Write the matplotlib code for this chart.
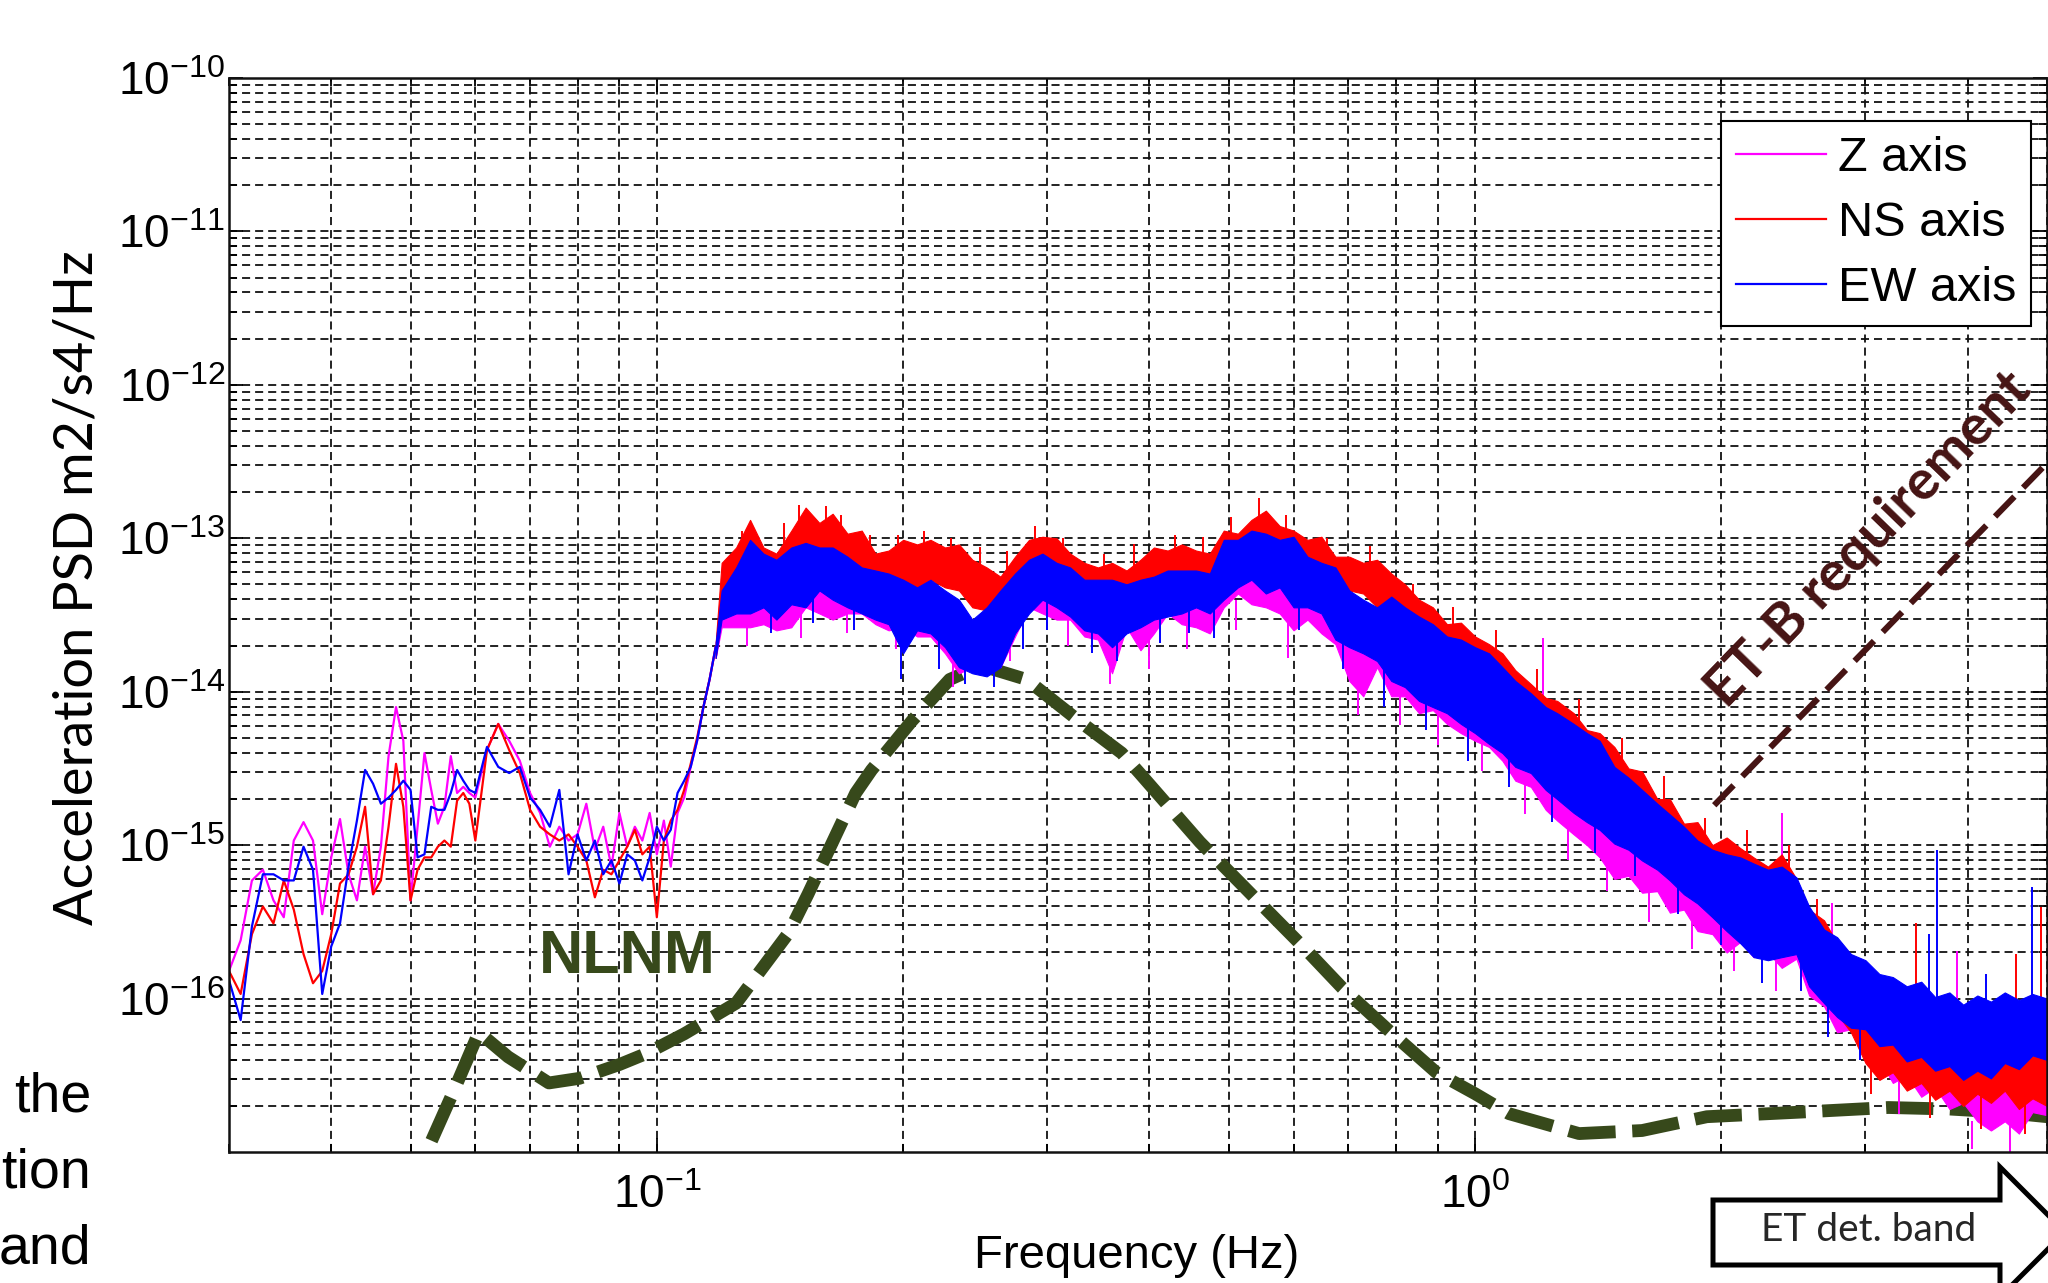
import numpy as np
import matplotlib
matplotlib.use("Agg")
import matplotlib.pyplot as plt
from matplotlib.ticker import FixedLocator, FixedFormatter, LogLocator, NullFormatter
from matplotlib.patches import Polygon

# values, PSD given as log10(m2/s4/Hz)
low_freq = [0.030, 0.031, 0.032, 0.033, 0.034, 0.035, 0.036, 0.037, 0.038, 0.039,
            0.040, 0.041, 0.042, 0.043, 0.044, 0.045, 0.046, 0.047, 0.048, 0.049,
            0.050, 0.051, 0.052, 0.053, 0.054, 0.055, 0.056, 0.057, 0.058, 0.059,
            0.060, 0.062, 0.064, 0.066, 0.068, 0.070, 0.072, 0.074, 0.076, 0.078,
            0.080, 0.082, 0.084, 0.086, 0.088, 0.090, 0.092, 0.094, 0.096, 0.098,
            0.100, 0.102, 0.104, 0.106, 0.108, 0.110, 0.112, 0.114, 0.116, 0.118]

z_low = [-15.82, -15.62, -15.23, -15.16, -15.36, -15.47, -14.97, -14.85, -14.97, -15.45,
         -15.08, -14.83, -15.19, -15.36, -15.01, -15.32, -15.01, -14.42, -14.10, -14.32,
         -15.36, -14.88, -14.40, -14.64, -14.86, -14.75, -14.42, -14.66, -14.62, -14.66,
         -14.69, -14.38, -14.21, -14.32, -14.45, -14.66, -14.79, -15.01, -14.88, -14.97,
         -14.93, -14.73, -15.03, -14.88, -15.14, -14.79, -15.01, -14.88, -14.97, -14.79,
         -15.06, -14.84, -15.14, -14.79, -14.69, -14.49, -14.32, -14.10, -13.92, -13.71]

ns_low = [-15.82, -15.97, -15.58, -15.40, -15.51, -15.23, -15.42, -15.71, -15.90, -15.82,
          -15.58, -15.25, -15.19, -15.01, -14.75, -15.32, -15.23, -14.88, -14.47, -14.75,
          -15.36, -15.16, -15.08, -15.08, -15.01, -14.97, -15.01, -14.71, -14.66, -14.73,
          -14.97, -14.38, -14.21, -14.38, -14.53, -14.77, -14.88, -14.93, -14.97, -14.93,
          -15.01, -15.10, -15.34, -15.16, -15.19, -15.10, -15.01, -14.90, -15.06, -15.01,
          -15.47, -14.97, -14.84, -14.77, -14.64, -14.47, -14.30, -14.10, -13.92, -13.71]

ew_low = [-15.88, -16.14, -15.53, -15.19, -15.19, -15.23, -15.23, -15.01, -15.16, -15.97,
          -15.66, -15.51, -15.14, -14.84, -14.51, -14.60, -14.73, -14.69, -14.64, -14.58,
          -14.64, -15.08, -15.06, -14.75, -14.77, -14.77, -14.66, -14.51, -14.58, -14.64,
          -14.66, -14.36, -14.49, -14.53, -14.49, -14.69, -14.77, -14.88, -14.64, -15.19,
          -14.93, -15.10, -14.97, -15.19, -15.10, -15.25, -15.06, -15.10, -15.23, -15.08,
          -14.88, -14.97, -14.90, -14.66, -14.58, -14.49, -14.32, -14.10, -13.92, -13.71]

# above 0.118 Hz the spectra are a dense noise band: upper / lower edges
band_freq = [0.118, 0.120, 0.125, 0.130, 0.135, 0.140, 0.146, 0.152, 0.158, 0.164,
             0.171, 0.178, 0.185, 0.192, 0.200, 0.208, 0.216, 0.225, 0.234, 0.243,
             0.253, 0.263, 0.274, 0.285, 0.296, 0.308, 0.320, 0.333, 0.346, 0.360,
             0.375, 0.390, 0.405, 0.421, 0.438, 0.456, 0.474, 0.493, 0.513, 0.533,
             0.555, 0.577, 0.600, 0.624, 0.649, 0.675, 0.702, 0.730, 0.759, 0.790,
             0.821, 0.854, 0.888, 0.924, 0.961, 1.00, 1.04, 1.08, 1.12, 1.17,
             1.22, 1.26, 1.32, 1.37, 1.42, 1.48, 1.54, 1.60, 1.67, 1.73,
             1.80, 1.87, 1.95, 2.03, 2.11, 2.19, 2.28, 2.37, 2.47, 2.56,
             2.67, 2.77, 2.88, 3.00, 3.12, 3.24, 3.37, 3.51, 3.65, 3.80,
             3.95, 4.11, 4.27, 4.44, 4.62, 4.80, 5.00]

z_hi = [-13.68, -13.45, -13.27, -13.10, -13.23, -13.27, -13.19, -13.16, -13.12, -13.19,
        -13.23, -13.27, -13.32, -13.34, -13.34, -13.36, -13.45, -13.49, -13.53, -13.58,
        -13.56, -13.53, -13.34, -13.27, -13.32, -13.34, -13.40, -13.45, -13.49, -13.34,
        -13.38, -13.49, -13.38, -13.34, -13.34, -13.34, -13.34, -13.10, -13.14, -13.01,
        -13.06, -13.10, -13.19, -13.23, -13.27, -13.34, -13.53, -13.60, -13.60, -13.56,
        -13.75, -13.77, -13.82, -13.84, -13.93, -13.97, -14.06, -14.10, -14.14, -14.19,
        -14.32, -14.36, -14.47, -14.53, -14.58, -14.70, -14.76, -14.84, -14.92, -15.00,
        -15.08, -15.15, -15.22, -15.28, -15.30, -15.34, -15.38, -15.38, -15.42, -15.60,
        -15.72, -15.82, -15.90, -15.98, -16.05, -16.10, -16.14, -16.16, -16.20, -16.25,
        -16.28, -16.28, -16.25, -16.22, -16.20, -16.20, -16.18]
z_lo = [-13.78, -13.58, -13.58, -13.58, -13.56, -13.60, -13.58, -13.45, -13.49, -13.53,
        -13.49, -13.49, -13.56, -13.60, -13.58, -13.64, -13.64, -13.75, -13.88, -13.84,
        -13.75, -13.84, -13.64, -13.45, -13.49, -13.53, -13.53, -13.64, -13.66, -13.88,
        -13.58, -13.73, -13.62, -13.49, -13.56, -13.58, -13.62, -13.45, -13.36, -13.43,
        -13.45, -13.49, -13.60, -13.53, -13.62, -13.69, -13.93, -14.03, -13.84, -14.03,
        -14.03, -14.14, -14.12, -14.21, -14.27, -14.32, -14.36, -14.45, -14.58, -14.62,
        -14.77, -14.84, -14.93, -15.00, -15.08, -15.22, -15.20, -15.31, -15.30, -15.44,
        -15.42, -15.56, -15.58, -15.70, -15.63, -15.73, -15.70, -15.80, -15.74, -15.98,
        -16.05, -16.22, -16.20, -16.38, -16.40, -16.55, -16.50, -16.64, -16.58, -16.72,
        -16.68, -16.80, -16.86, -16.80, -16.88, -16.74, -16.76]

ns_hi = [-13.68, -13.16, -13.06, -12.88, -13.06, -13.10, -12.95, -12.80, -12.90, -12.84,
         -12.97, -12.95, -13.10, -13.08, -13.01, -13.04, -13.01, -13.06, -13.04, -13.14,
         -13.19, -13.25, -13.12, -13.01, -12.99, -13.00, -13.10, -13.16, -13.19, -13.16,
         -13.21, -13.14, -13.06, -13.08, -13.04, -13.08, -13.10, -12.95, -12.97, -12.88,
         -12.82, -12.92, -12.95, -13.01, -12.99, -13.12, -13.12, -13.16, -13.14, -13.23,
         -13.30, -13.40, -13.45, -13.56, -13.55, -13.64, -13.69, -13.75, -13.86, -13.95,
         -14.04, -14.06, -14.14, -14.25, -14.27, -14.36, -14.50, -14.52, -14.70, -14.70,
         -14.86, -14.85, -15.00, -14.95, -15.02, -15.08, -15.14, -15.06, -15.22, -15.42,
         -15.49, -15.64, -15.72, -15.85, -15.90, -15.95, -15.98, -16.00, -16.05, -16.08,
         -16.10, -16.08, -16.07, -16.08, -16.07, -16.08, -16.07]
ns_lo = [-13.78, -13.49, -13.40, -13.34, -13.32, -13.34, -13.27, -13.27, -13.21, -13.21,
         -13.25, -13.25, -13.32, -13.34, -13.34, -13.32, -13.27, -13.32, -13.34, -13.45,
         -13.47, -13.53, -13.43, -13.34, -13.23, -13.25, -13.32, -13.34, -13.38, -13.36,
         -13.36, -13.38, -13.30, -13.25, -13.25, -13.32, -13.34, -13.25, -13.14, -13.14,
         -13.19, -13.19, -13.23, -13.23, -13.27, -13.34, -13.34, -13.36, -13.45, -13.49,
         -13.53, -13.64, -13.71, -13.80, -13.84, -13.88, -13.93, -14.01, -14.10, -14.14,
         -14.23, -14.27, -14.32, -14.40, -14.43, -14.85, -14.90, -14.98, -15.05, -15.10,
         -15.20, -15.26, -15.35, -15.45, -15.55, -15.62, -15.65, -15.64, -15.62, -15.85,
         -15.98, -16.10, -16.22, -16.42, -16.53, -16.48, -16.60, -16.55, -16.66, -16.60,
         -16.70, -16.62, -16.68, -16.60, -16.72, -16.65, -16.70]

ew_hi = [-13.68, -13.34, -13.19, -13.01, -13.10, -13.14, -13.06, -13.03, -13.06, -13.06,
         -13.12, -13.19, -13.21, -13.23, -13.27, -13.32, -13.27, -13.34, -13.40, -13.53,
         -13.45, -13.34, -13.23, -13.14, -13.10, -13.16, -13.19, -13.27, -13.27, -13.27,
         -13.30, -13.27, -13.25, -13.21, -13.21, -13.21, -13.23, -13.01, -13.01, -12.95,
         -12.97, -13.01, -12.99, -13.12, -13.16, -13.19, -13.34, -13.40, -13.45, -13.38,
         -13.45, -13.51, -13.56, -13.64, -13.66, -13.71, -13.75, -13.84, -13.93, -14.01,
         -14.10, -14.14, -14.21, -14.27, -14.32, -14.49, -14.56, -14.64, -14.73, -14.80,
         -14.88, -14.97, -15.03, -15.06, -15.08, -15.12, -15.16, -15.14, -15.21, -15.40,
         -15.55, -15.60, -15.71, -15.75, -15.84, -15.86, -15.92, -15.89, -15.99, -15.96,
         -16.04, -15.98, -16.02, -15.96, -16.01, -15.97, -16.00]
ew_lo = [-13.78, -13.53, -13.49, -13.49, -13.45, -13.53, -13.43, -13.45, -13.34, -13.40,
         -13.45, -13.49, -13.53, -13.56, -13.75, -13.60, -13.62, -13.71, -13.84, -13.88,
         -13.90, -13.84, -13.62, -13.49, -13.40, -13.45, -13.51, -13.60, -13.62, -13.71,
         -13.62, -13.58, -13.53, -13.51, -13.49, -13.45, -13.49, -13.40, -13.32, -13.27,
         -13.36, -13.32, -13.45, -13.45, -13.49, -13.66, -13.71, -13.75, -13.80, -13.93,
         -13.97, -14.06, -14.10, -14.14, -14.21, -14.27, -14.34, -14.40, -14.49, -14.53,
         -14.64, -14.70, -14.79, -14.85, -14.90, -14.99, -15.03, -15.10, -15.16, -15.23,
         -15.32, -15.38, -15.47, -15.56, -15.64, -15.73, -15.75, -15.73, -15.71, -15.92,
         -16.03, -16.12, -16.19, -16.20, -16.31, -16.30, -16.41, -16.38, -16.47, -16.44,
         -16.53, -16.47, -16.52, -16.42, -16.46, -16.37, -16.40]

# single noise spikes sticking out of each band (freq, end a, end b)
z_spike_freq = [1.21, 2.37, 2.73, 3.88, 0.129, 0.150, 0.171, 0.196, 0.230, 0.270,
                0.318, 0.358, 0.400, 0.445, 0.51, 0.59, 0.72, 0.81, 0.90, 1.02,
                1.15, 1.30, 1.45, 1.63, 1.84, 2.07, 2.33, 3.30, 4.05, 4.50]
z_spike_a = [-14.40, -15.50, -15.90, -16.40, -13.50, -13.45, -13.45, -13.55, -13.80, -13.60,
             -13.50, -13.70, -13.65, -13.50, -13.40, -13.55, -13.95, -14.00, -14.10, -14.30,
             -14.55, -14.85, -15.05, -15.25, -15.45, -15.60, -15.70, -16.50, -16.80, -16.80]
z_spike_b = [-13.65, -14.79, -15.38, -15.69, -13.70, -13.65, -13.62, -13.72, -13.97, -13.80,
             -13.70, -13.95, -13.85, -13.72, -13.60, -13.78, -14.15, -14.22, -14.35, -14.52,
             -14.80, -15.10, -15.30, -15.50, -15.68, -15.82, -15.95, -16.75, -16.98, -17.00]

ns_spike_freq = [3.46, 4.58, 4.92, 0.127, 0.143, 0.149, 0.161, 0.168, 0.182, 0.197,
                 0.212, 0.229, 0.248, 0.268, 0.290, 0.314, 0.352, 0.383, 0.430, 0.465,
                 0.503, 0.545, 0.588, 0.660, 0.745, 0.84, 0.94, 1.06, 1.19, 1.34,
                 1.51, 1.70, 1.91, 2.15, 2.42, 2.62, 3.05, 3.60, 4.15, 4.70]
ns_spike_a = [-16.30, -16.40, -16.40, -13.30, -13.20, -13.10, -13.10, -13.10, -13.20, -13.20,
              -13.20, -13.20, -13.30, -13.30, -13.15, -13.20, -13.30, -13.30, -13.20, -13.20,
              -13.10, -13.00, -13.10, -13.20, -13.30, -13.50, -13.65, -13.80, -14.05, -14.30,
              -14.55, -14.80, -15.05, -15.15, -15.25, -15.60, -16.40, -16.55, -16.60, -16.65]
ns_spike_b = [-15.51, -15.71, -15.40, -12.95, -12.90, -12.78, -12.79, -12.85, -12.98, -12.98,
              -12.95, -13.00, -13.06, -13.08, -12.92, -13.00, -13.10, -13.04, -12.98, -12.99,
              -12.86, -12.74, -12.85, -13.00, -13.05, -13.30, -13.45, -13.60, -13.85, -14.05,
              -14.30, -14.55, -14.82, -14.90, -15.00, -15.35, -16.62, -16.78, -16.85, -16.88]

ew_spike_freq = [3.59, 3.67, 4.21, 4.80, 0.138, 0.155, 0.174, 0.199, 0.221, 0.238,
                 0.258, 0.280, 0.300, 0.340, 0.365, 0.412, 0.447, 0.480, 0.610, 0.690,
                 0.775, 0.87, 0.98, 1.10, 1.24, 1.40, 1.57, 1.77, 2.00, 2.24,
                 2.50, 2.70, 2.95]
ew_spike_a = [-16.20, -16.20, -16.30, -16.20, -13.40, -13.30, -13.35, -13.55, -13.60, -13.70,
              -13.70, -13.50, -13.35, -13.50, -13.55, -13.45, -13.40, -13.40, -13.35, -13.60,
              -13.85, -14.00, -14.20, -14.40, -14.60, -14.85, -14.95, -15.25, -15.45, -15.65,
              -15.70, -16.00, -16.15]
ew_spike_b = [-15.58, -15.03, -15.84, -15.27, -13.62, -13.55, -13.60, -13.92, -13.85, -13.95,
              -13.97, -13.72, -13.60, -13.75, -13.80, -13.68, -13.62, -13.65, -13.60, -13.85,
              -14.10, -14.25, -14.45, -14.62, -14.85, -15.05, -15.20, -15.45, -15.65, -15.90,
              -15.95, -16.25, -16.40]

nlnm_freq = [0.049, 0.0524, 0.0567, 0.0606, 0.0658, 0.0738, 0.0804, 0.090, 0.0969, 0.108,
             0.125, 0.145, 0.153, 0.160, 0.175, 0.183, 0.205, 0.228, 0.249, 0.283,
             0.328, 0.370, 0.389, 0.461, 0.575, 0.621, 0.688, 0.785, 0.896, 1.0,
             1.1, 1.34, 1.6, 1.92, 2.5, 3.2, 3.8, 4.4, 5.0]
nlnm_log = [-17.30, -16.99, -16.58, -16.22, -16.38, -16.55, -16.52, -16.43, -16.36, -16.23,
            -16.03, -15.57, -15.32, -15.10, -14.66, -14.51, -14.19, -13.92, -13.83, -13.92,
            -14.19, -14.40, -14.53, -14.98, -15.50, -15.68, -15.93, -16.21, -16.48, -16.62,
            -16.75, -16.88, -16.86, -16.77, -16.74, -16.71, -16.72, -16.74, -16.77]

etb_freq = [1.96, 5.0]
etb_log = [-14.74, -12.51]

xtick_vals = [0.1, 1.0]
xtick_labels = [r'$\mathregular{10^{-1}}$', r'$\mathregular{10^{0}}$']
ytick_vals = [1e-16, 1e-15, 1e-14, 1e-13, 1e-12, 1e-11, 1e-10]
ytick_labels = [r'$\mathregular{10^{-16}}$', r'$\mathregular{10^{-15}}$', r'$\mathregular{10^{-14}}$',
                r'$\mathregular{10^{-13}}$', r'$\mathregular{10^{-12}}$', r'$\mathregular{10^{-11}}$',
                r'$\mathregular{10^{-10}}$']


def p(v):
    return 10.0 ** np.asarray(v)


plt.rcParams['font.family'] = ['Liberation Sans', 'DejaVu Sans']
plt.rcParams['mathtext.fontset'] = 'custom'
plt.rcParams['mathtext.rm'] = 'Liberation Sans'
plt.rcParams['mathtext.it'] = 'Liberation Sans:italic'
plt.rcParams['mathtext.bf'] = 'Liberation Sans:bold'
plt.rcParams['lines.scale_dashes'] = False

W, H = 2048, 1283
olive = '#37491b'
maroon = '#461414'

fig = plt.figure(figsize=(W / 100, H / 100), dpi=100)
ax = fig.add_axes([229 / W, 1 - 1152 / H, 1818 / W, 1074 / H])
ax.set_xscale('log')
ax.set_yscale('log')

ax.plot(nlnm_freq, p(nlnm_log), color=olive, lw=9.2, dashes=(34, 12),
        dash_capstyle='butt', zorder=1.5)
ax.plot(etb_freq, p(etb_log), color=maroon, lw=4.4, dashes=(20, 9),
        dash_capstyle='butt', zorder=1.6)

series = [
    ('Z axis', '#ff00ff', z_low, z_hi, z_lo, z_spike_freq, z_spike_a, z_spike_b),
    ('NS axis', '#ff0000', ns_low, ns_hi, ns_lo, ns_spike_freq, ns_spike_a, ns_spike_b),
    ('EW axis', '#0000ff', ew_low, ew_hi, ew_lo, ew_spike_freq, ew_spike_a, ew_spike_b),
]
for label, c, low, hi, lo, sf, sa, sb in series:
    ax.fill_between(band_freq, p(lo), p(hi), color=c, lw=0.8, zorder=2)
    ax.plot(low_freq, p(low), color=c, lw=1.6, label=label, zorder=2)
    ax.vlines(sf, p(sa), p(sb), color=c, lw=1.4, zorder=2)

ax.set_xlim(0.03, 5)
ax.set_ylim(1e-17, 1e-10)
ax.xaxis.set_major_locator(FixedLocator(xtick_vals))
ax.xaxis.set_major_formatter(FixedFormatter(xtick_labels))
ax.xaxis.set_minor_locator(LogLocator(base=10, subs=np.arange(2, 10), numticks=50))
ax.xaxis.set_minor_formatter(NullFormatter())
ax.yaxis.set_major_locator(FixedLocator(ytick_vals))
ax.yaxis.set_major_formatter(FixedFormatter(ytick_labels))
ax.yaxis.set_minor_locator(LogLocator(base=10, subs=np.arange(2, 10), numticks=50))
ax.yaxis.set_minor_formatter(NullFormatter())

ax.set_axisbelow(True)
ax.grid(True, which='both', color='#111111', linestyle=(0, (5.8, 3.6)), linewidth=1.3)
ax.tick_params(which='both', direction='in', top=True, right=True, width=1.3)
ax.tick_params(which='major', length=10, labelsize=33)
ax.tick_params(which='minor', length=6)
ax.tick_params(axis='y', pad=3)
ax.tick_params(axis='x', pad=16)
for s in ax.spines.values():
    s.set_linewidth(1.8)
    s.set_color('#111111')

ax.set_ylabel('Acceleration PSD m2/s4/Hz', family=['Lato', 'DejaVu Sans'], fontsize=39)
ax.yaxis.set_label_coords(-0.07, 0.525)
ax.set_xlabel('Frequency (Hz)', fontsize=34)
ax.xaxis.set_label_coords(0.499, -0.076)

leg = ax.legend(loc='upper right', bbox_to_anchor=(2031 / W, 1 - 121 / H),
                bbox_transform=fig.transFigure, fontsize=35, fancybox=False,
                edgecolor='black', framealpha=1, borderpad=0.3, handlelength=1.85,
                handletextpad=0.25, labelspacing=0.42, borderaxespad=0)
leg.get_frame().set_linewidth(1.5)

ax.text(0.219, 0.181, 'NLNM', transform=ax.transAxes, fontsize=44, fontweight='bold',
        color=olive, ha='center', va='center')
ax.text(0.902, 0.570, 'ET-B requirement', transform=ax.transAxes, rotation=46,
        rotation_mode='anchor', ha='center', va='center', fontsize=40,
        fontweight='bold', family=['Lato', 'DejaVu Sans'], color=maroon)

# block arrow under the axis
arrow_px = [(1713, 1200), (2000, 1200), (2000, 1167), (2065, 1232),
            (2000, 1297), (2000, 1265), (1713, 1265)]
arrow = Polygon([(x / W, 1 - y / H) for x, y in arrow_px], closed=True,
                transform=fig.transFigure, facecolor='white', edgecolor='black',
                lw=3.6, joinstyle='miter', clip_on=False)
fig.add_artist(arrow)
fig.text(1869 / W, 1 - 1230 / H, 'ET det. band', ha='center', va='center',
         fontsize=28, family=['Lato', 'DejaVu Sans'], color='#262626')

# slide text at the left border
for word, base in [('the', 1112), ('tion', 1188), ('and', 1263)]:
    fig.text(91 / W, 1 - base / H, word, ha='right', va='baseline', fontsize=40)

fig.savefig('out.png', dpi=100)
